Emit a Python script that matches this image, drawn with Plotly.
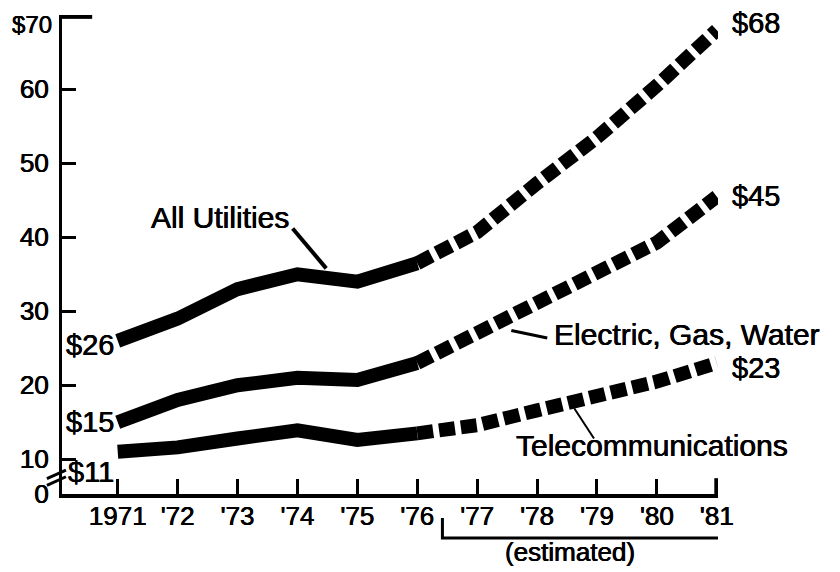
import plotly.graph_objects as go

# ---- data ----
years = [1971, 1972, 1973, 1974, 1975, 1976, 1977, 1978, 1979, 1980, 1981]
year_labels = ["1971", "'72", "'73", "'74", "'75", "'76", "'77", "'78", "'79", "'80", "'81"]
all_utilities = [26, 29, 33, 35, 34, 36.5, 40.7, 47.3, 53.5, 60.5, 68]
electric_gas_water = [15, 18, 20, 21, 20.7, 23, 27, 31.5, 35, 39.3, 45.5]
telecommunications = [11, 11.6, 12.8, 13.9, 12.6, 13.5, 14.6, 16.6, 18.4, 20.5, 23]
series_names = ["All Utilities", "Electric, Gas, Water", "Telecommunications"]
start_labels = ["$26", "$15", "$11"]
end_labels = ["$68", "$45", "$23"]
y_tick_vals = [5.3, 10, 20, 30, 40, 50, 60, 70]
y_tick_text = ["0", "10", "20", "30", "40", "50", "60", "$70"]
last_actual = 1976

FONT = "Liberation Sans, Arial, sans-serif"
BLACK = "#000000"
HEAVY = "0.35px 0 0 #000, -0.3px 0 0 #000"


def txt(size):
    return dict(family=FONT, size=size, color=BLACK, shadow=HEAVY)


fig = go.Figure()
split = years.index(last_actual)
for name, vals in zip(series_names, [all_utilities, electric_gas_water, telecommunications]):
    fig.add_trace(go.Scatter(x=years[:split + 1], y=vals[:split + 1], mode="lines",
                             line=dict(color=BLACK, width=14), name=name,
                             showlegend=False, hoverinfo="skip"))
    fig.add_trace(go.Scatter(x=years[split:], y=vals[split:], mode="lines",
                             line=dict(color=BLACK, width=14, dash="16px,6px"),
                             name=name + " (estimated)", showlegend=False, hoverinfo="skip"))

annotations = []
# top y tick label (drawn as annotation so it is not clipped at the top edge)
annotations.append(dict(x=0, y=y_tick_vals[-1], xref="paper", yref="y", text=y_tick_text[-1],
                        showarrow=False, xanchor="right", yanchor="middle", xshift=-9, yshift=-9,
                        borderpad=0, font=txt(24)))
# start labels
for lab, vals, ys in zip(start_labels, [all_utilities, electric_gas_water, telecommunications], [-4, 0, -20]):
    annotations.append(dict(x=years[0], y=vals[0], xref="x", yref="y", text=lab, showarrow=False,
                            xanchor="right", yanchor="middle", xshift=-2, yshift=ys, font=txt(29)))
# end labels
for lab, vals, ys in zip(end_labels, [all_utilities, electric_gas_water, telecommunications], [7, 1, -5]):
    annotations.append(dict(x=years[-1], y=vals[-1], xref="x", yref="y", text=lab, showarrow=False,
                            xanchor="left", yanchor="middle", xshift=13, yshift=ys, font=txt(29)))
# series names
annotations.append(dict(x=1972.7, y=42.7, xref="x", yref="y", text=series_names[0], showarrow=False,
                        xanchor="center", yanchor="middle", font=txt(30)))
annotations.append(dict(x=1978.25, y=26.9, xref="x", yref="y", text=series_names[1], showarrow=False,
                        xanchor="left", yanchor="middle", font=txt(30)))
annotations.append(dict(x=1977.62, y=11.9, xref="x", yref="y", text=series_names[2], showarrow=False,
                        xanchor="left", yanchor="middle", font=txt(30)))
annotations.append(dict(x=1978.55, y=-0.121, xref="x", yref="paper", text="(estimated)", showarrow=False,
                        xanchor="center", yanchor="middle", font=txt(26)))

shapes = []
# leader lines
shapes.append(dict(type="line", xref="x", yref="y", x0=1973.92, y0=41.2, x1=1974.48, y1=35.8,
                   line=dict(color=BLACK, width=4)))
shapes.append(dict(type="line", xref="x", yref="y", x0=1977.57, y0=27.4, x1=1978.17, y1=26.4,
                   line=dict(color=BLACK, width=3)))
shapes.append(dict(type="line", xref="x", yref="y", x0=1978.62, y0=16.9, x1=1978.95, y1=12.8,
                   line=dict(color=BLACK, width=2)))
# thick top tick at $70
shapes.append(dict(type="line", xref="paper", yref="y", x0=0, y0=70, x1=0.046, y1=70,
                   line=dict(color=BLACK, width=7)))
# thicker final x tick
shapes.append(dict(type="line", xref="x", yref="paper", x0=1981, y0=0, x1=1981, y1=0.033,
                   line=dict(color=BLACK, width=5)))
# axis break marks
for dy in [0.0, 0.014]:
    shapes.append(dict(type="line", xref="paper", yref="paper", x0=-0.023, y0=0.018 + dy,
                       x1=0.006, y1=0.036 + dy, line=dict(color=BLACK, width=3)))
# bracket for estimated years
shapes.append(dict(type="path", xref="x", yref="paper",
                   path="M 1976.42,-0.050 L 1976.42,-0.092 L 1981.37,-0.092 L 1981.37,-0.050",
                   line=dict(color=BLACK, width=3)))

# page body has an 8px margin, so the figure is sized/offset to compensate
fig.update_layout(
    width=832, height=564,
    margin=dict(l=54, r=122, t=7, b=78, autoexpand=False),
    paper_bgcolor="white", plot_bgcolor="white",
    showlegend=False,
    annotations=annotations, shapes=shapes,
    font=dict(family=FONT, color=BLACK),
)
fig.update_xaxes(range=[1970.07, 1981.02], tickvals=years, ticktext=year_labels, automargin=False,
                 showgrid=False, zeroline=False, showline=True, linecolor=BLACK, linewidth=4,
                 ticks="inside", ticklen=15, tickwidth=3, tickcolor=BLACK,
                 tickfont=txt(26), ticklabelstandoff=-4, ticklabeloverflow="allow")
fig.update_yaxes(range=[5.3, 70.05], tickvals=y_tick_vals, ticktext=y_tick_text[:-1] + [""],
                 automargin=False,
                 showgrid=False, zeroline=False, showline=True, linecolor=BLACK, linewidth=3,
                 ticks="inside", ticklen=14, tickwidth=3, tickcolor=BLACK,
                 tickfont=txt(26), ticklabelstandoff=5, ticklabeloverflow="allow")

fig.write_html("out.html")
